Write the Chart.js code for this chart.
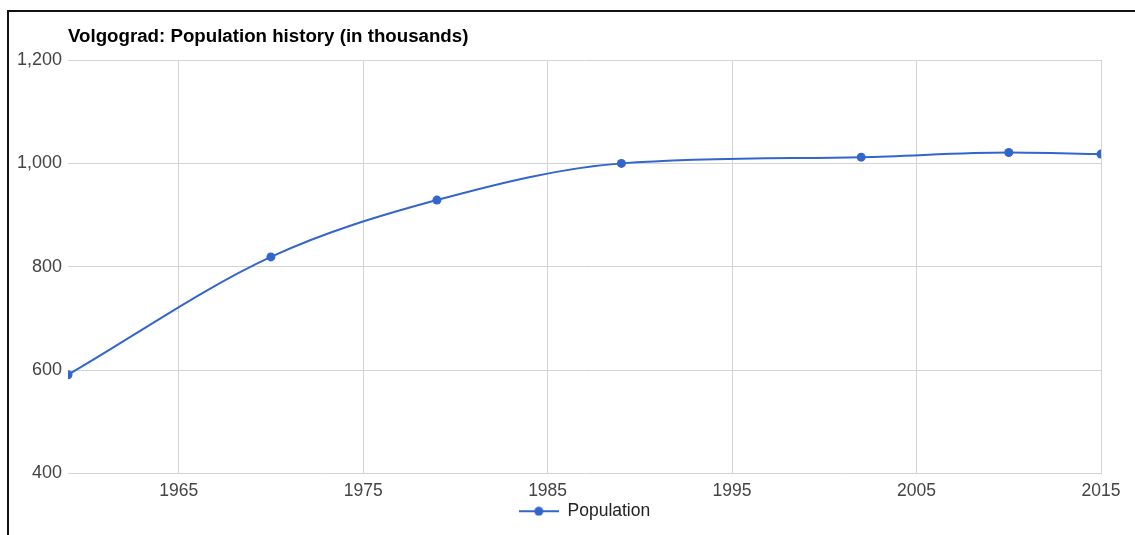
<!DOCTYPE html>
<html>
<head>
<meta charset="utf-8">
<script src="https://cdn.jsdelivr.net/npm/chart.js@4"></script>
<style>
  html, body { margin: 0; padding: 0; background: #fff; overflow: hidden; }
  #frame {
    position: absolute; left: 7px; top: 10px; width: 1200px; height: 600px;
    border-left: 2px solid #111; border-top: 2px solid #111;
  }
  #myChart { position: absolute; left: 0; top: 0; }
</style>
</head>
<body>
<div id="frame"></div>
<canvas id="myChart" width="1135" height="535"></canvas>
<script>
const chartTitle = "Volgograd: Population history (in thousands)";
const seriesName = "Population";
const years = [1959, 1970, 1979, 1989, 2002, 2010, 2015];
const population = [591, 819, 929, 1000, 1012, 1021, 1018];
const yearTicks = [1965, 1975, 1985, 1995, 2005, 2015];
const populationTicks = [400, 600, 800, 1000, 1200];

const lineColor = "#3366cc";
const fontFamily = "'Liberation Sans', Arial, sans-serif";

// legend marker: short line with a dot, like the original
const marker = document.createElement("canvas");
marker.width = 40;
marker.height = 10;
const mctx = marker.getContext("2d");
mctx.strokeStyle = lineColor;
mctx.lineWidth = 2;
mctx.beginPath();
mctx.moveTo(0, 5);
mctx.lineTo(40, 5);
mctx.stroke();
mctx.fillStyle = lineColor;
mctx.beginPath();
mctx.arc(20, 5, 4.5, 0, Math.PI * 2);
mctx.fill();

// title sits at the left edge of the plot area
const titlePlugin = {
  id: "leftTitle",
  afterDraw(chart) {
    const { ctx, chartArea } = chart;
    ctx.save();
    ctx.font = "bold 18.7px " + fontFamily;
    ctx.fillStyle = "#000";
    ctx.textBaseline = "alphabetic";
    ctx.fillText(chartTitle, chartArea.left, 42);
    ctx.restore();
  }
};

const ctx = document.getElementById("myChart").getContext("2d");

const myChart = new Chart(ctx, {
  type: "line",
  data: {
    datasets: [{
      label: seriesName,
      data: years.map((y, i) => ({ x: y, y: population[i] })),
      borderColor: lineColor,
      backgroundColor: lineColor,
      borderWidth: 2,
      pointRadius: 4.5,
      pointBorderWidth: 0,
      cubicInterpolationMode: "monotone",
      fill: false
    }]
  },
  options: {
    responsive: false,
    devicePixelRatio: 1,
    animation: false,
    layout: { padding: { top: 60, left: 0, right: 34, bottom: 5 } },
    plugins: {
      title: { display: false },
      tooltip: { enabled: false },
      legend: {
        position: "bottom",
        fullSize: false,
        labels: {
          usePointStyle: true,
          pointStyle: marker,
          pointStyleWidth: 40,
          padding: 0,
          color: "#222",
          font: { family: fontFamily, size: 17.5 }
        }
      }
    },
    scales: {
      x: {
        type: "linear",
        min: years[0],
        max: years[years.length - 1],
        afterFit: (scale) => { scale.height = 29; },
        afterBuildTicks: (scale) => {
          scale.ticks = yearTicks.map((v) => ({ value: v }));
        },
        grid: { color: "#d4d4d4", drawTicks: false },
        border: { display: false },
        ticks: {
          padding: 7,
          color: "#444",
          maxRotation: 0,
          font: { family: fontFamily, size: 17.5 },
          callback: (v) => String(v)
        }
      },
      y: {
        min: populationTicks[0],
        max: populationTicks[populationTicks.length - 1],
        afterFit: (scale) => { scale.width = 68; },
        afterBuildTicks: (scale) => {
          scale.ticks = populationTicks.map((v) => ({ value: v }));
        },
        grid: { color: "#d4d4d4", drawTicks: false },
        border: { display: false },
        ticks: {
          padding: 6,
          color: "#444",
          font: { family: fontFamily, size: 18 },
          callback: (v) => v.toLocaleString("en-US")
        }
      }
    }
  },
  plugins: [titlePlugin]
});
</script>
</body>
</html>
